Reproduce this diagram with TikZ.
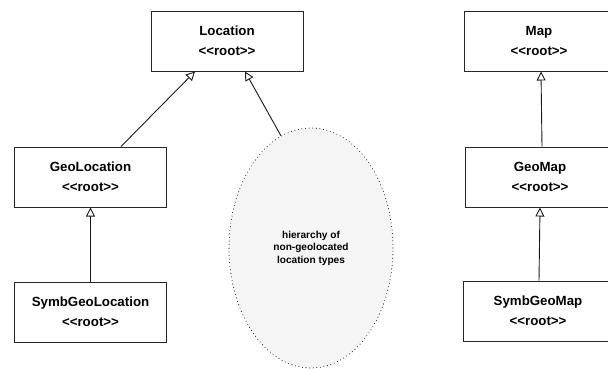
\documentclass[tikz,border=0pt]{standalone}
\usepackage{fontspec}
\setmainfont{Liberation Sans}[Ligatures=TeXOff]
\usetikzlibrary{arrows.meta,shapes.geometric}
\newcommand{\stereo}[1]{\textless\textless #1\textgreater\textgreater}
\begin{document}
\begin{tikzpicture}[x=1pt,y=-1pt,
  classbox/.style={draw=black!85,line width=1pt,fill=white,minimum width=152pt,minimum height=60pt,
    inner sep=0pt,align=center,font=\fontsize{13.3}{20}\selectfont\bfseries},
  inherit/.style={draw=black!90,line width=0.9pt,
    -{Triangle[open,length=9pt,width=9pt,line width=0.9pt,fill=white]}},
  cloud/.style={ellipse,draw=black!85,fill=black!4,line width=1.1pt,line cap=round,
    dash pattern=on 0pt off 3.6pt,minimum width=164pt,minimum height=240pt,inner sep=0pt,
    align=center,font=\fontsize{10.1}{12.6}\selectfont\bfseries}]
  \clip (0,0) rectangle (608,368);
  % left hierarchy
  \node[classbox] (loc)  at (227,41)    {Location\\\stereo{root}};
  \node[classbox] (geo)  at (90.5,177)  {GeoLocation\\\stereo{root}};
  \node[classbox] (sgeo) at (90.5,312)  {SymbGeoLocation\\\stereo{root}};
  \node[cloud] (other) at (311,248) {hierarchy of\\non-geolocated\\location types};
  % right hierarchy
  \node[classbox,minimum width=150pt] (map)  at (539,41)  {Map\\\stereo{root}};
  \node[classbox,minimum width=150pt] (gmap) at (540,177) {GeoMap\\\stereo{root}};
  \node[classbox,minimum width=150pt] (smap) at (538,311) {SymbGeoMap\\\stereo{root}};
  % generalisation links
  \draw[inherit] ([xshift=30.5pt]geo.north) -- ([xshift=-32pt]loc.south);
  \draw[inherit] (other.105) -- ([xshift=18pt]loc.south);
  \draw[inherit] (sgeo.north) -- (geo.south);
  \draw[inherit] ([xshift=2pt]gmap.north) -- ([xshift=2pt]map.south);
  \draw[inherit] ([xshift=1pt]smap.north) -- ([xshift=0pt]gmap.south);
\end{tikzpicture}
\end{document}
